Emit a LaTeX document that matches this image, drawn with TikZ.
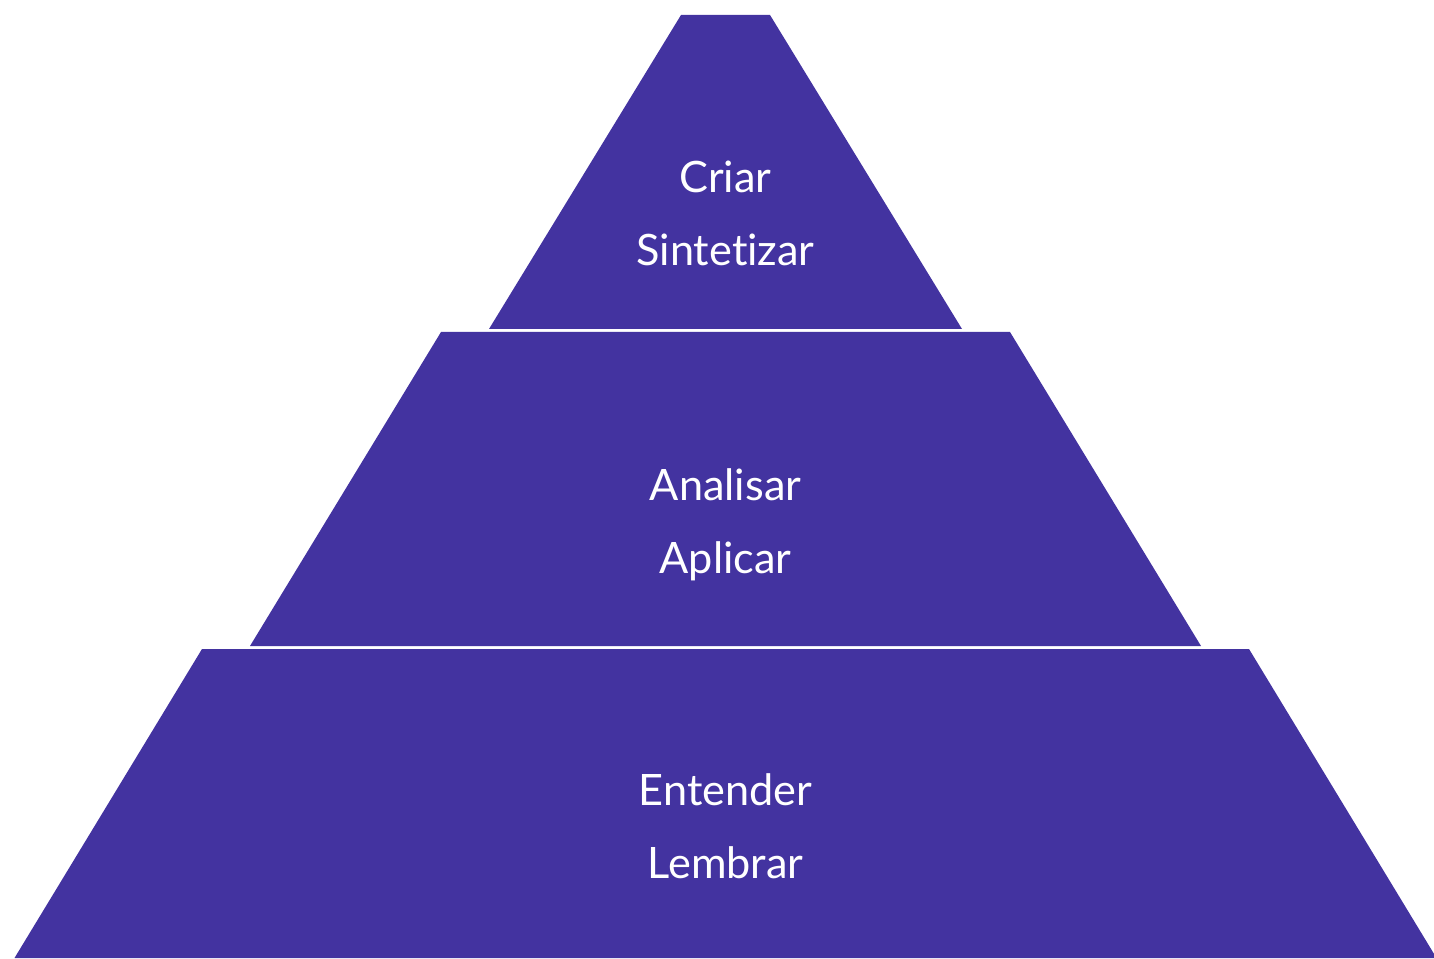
\documentclass[tikz,border=0pt]{standalone}
\usepackage{fontspec}
\setmainfont{Lato}[Ligatures=NoCommon]
\usetikzlibrary{positioning}
\definecolor{bloomviolet}{HTML}{4333A0}
\tikzset{tier/.style={fill=bloomviolet,draw=none}}
\tikzset{word/.style={text=white,font=\fontsize{12.3}{15}\selectfont,anchor=base,inner sep=0pt}}

\begin{document}
\begin{tikzpicture}[x=0.01cm,y=-0.01cm]

\useasboundingbox (0,0) rectangle (1434,958);

% tiers: top y / bottom y / half widths
\foreach \i/\ya/\yb/\wa/\wb in {1/15/329/44.5/236.5,2/332/646/284.5/475.5,3/649/958/523.5/711}
{
	\fill[tier] (725.5-\wa,\ya) -- (725.5+\wa,\ya) -- (725.5+\wb,\yb) -- (725.5-\wb,\yb) -- cycle;
}

\node[word] (criar) at (725.5,193) {Criar};
\node[word] (sintetizar) at (725.5,266) {Sintetizar};
\node[word] (analisar) at (725.5,500) {Analisar};
\node[word] (aplicar) at (725.5,573) {Aplicar};
\node[word] (entender) at (725.5,805) {Entender};
\node[word] (lembrar) at (725.5,878) {Lembrar};

\end{tikzpicture}
\end{document}
